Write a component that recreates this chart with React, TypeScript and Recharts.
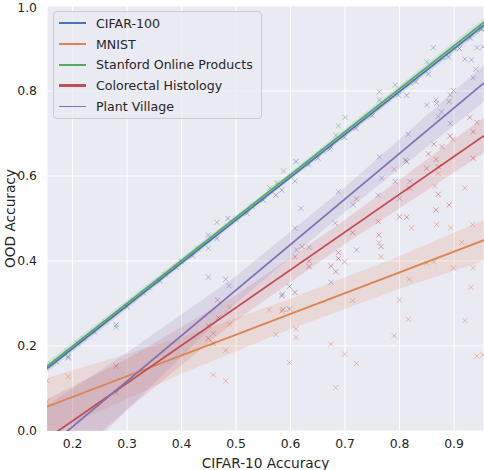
import {
    ComposedChart,
    Line,
    Area,
    Scatter,
    XAxis,
    YAxis,
    CartesianGrid,
    Legend
} from "recharts";

// series names and colours (seaborn deep palette)
const seriesNames = ["CIFAR-100", "MNIST", "Stanford Online Products", "Colorectal Histology", "Plant Village"];
const seriesColors = ["#4C72B0", "#DD8452", "#55A868", "#C44E52", "#8172B3"];
const legendWidths = [2.2, 1.2, 2.2, 2.2, 1.2];

const xTicks = [0.2, 0.3, 0.4, 0.5, 0.6, 0.7, 0.8, 0.9];
const yTicks = [0, 0.2, 0.4, 0.6, 0.8, 1.0];

// scatter points [cifar10 acc, ood acc]
const cifar100Points = [
    [0.17, 0.163], [0.192, 0.175], [0.21, 0.205], [0.24, 0.233], [0.28, 0.25], [0.3, 0.292], [0.33, 0.325],
    [0.36, 0.353], [0.39, 0.385], [0.42, 0.412], [0.449, 0.461], [0.465, 0.453], [0.485, 0.5], [0.52, 0.512],
    [0.55, 0.543], [0.573, 0.555], [0.584, 0.567], [0.61, 0.634], [0.633, 0.628], [0.65, 0.642], [0.672, 0.663],
    [0.674, 0.669], [0.699, 0.691], [0.72, 0.712], [0.75, 0.742], [0.763, 0.779], [0.798, 0.79], [0.813, 0.79],
    [0.83, 0.822], [0.853, 0.84], [0.89, 0.88], [0.91, 0.9], [0.93, 0.925], [0.95, 0.945]
];
const mnistPoints = [
    [0.153, 0.118], [0.153, 0.069], [0.192, 0.128], [0.458, 0.132], [0.481, 0.19], [0.481, 0.118], [0.488, 0.29],
    [0.488, 0.251], [0.561, 0.285], [0.573, 0.227], [0.584, 0.282], [0.598, 0.161], [0.61, 0.24], [0.61, 0.22],
    [0.674, 0.204], [0.683, 0.102], [0.699, 0.181], [0.714, 0.307], [0.721, 0.159], [0.762, 0.443], [0.766, 0.41],
    [0.79, 0.224], [0.79, 0.616], [0.8, 0.308], [0.816, 0.263], [0.818, 0.357], [0.822, 0.478], [0.85, 0.395],
    [0.863, 0.398], [0.865, 0.576], [0.868, 0.486], [0.871, 0.606], [0.894, 0.478], [0.899, 0.384], [0.914, 0.444],
    [0.92, 0.26], [0.92, 0.572], [0.931, 0.338], [0.934, 0.486], [0.935, 0.384], [0.942, 0.176], [0.953, 0.179]
];
const sopPoints = [
    [0.16, 0.158], [0.19, 0.188], [0.22, 0.218], [0.26, 0.257], [0.28, 0.244], [0.31, 0.308], [0.34, 0.337],
    [0.37, 0.368], [0.4, 0.398], [0.43, 0.428], [0.449, 0.43], [0.465, 0.491], [0.5, 0.498], [0.53, 0.528],
    [0.562, 0.572], [0.575, 0.584], [0.587, 0.612], [0.608, 0.588], [0.63, 0.628], [0.66, 0.658], [0.683, 0.696],
    [0.688, 0.718], [0.7, 0.738], [0.74, 0.738], [0.763, 0.798], [0.792, 0.814], [0.82, 0.818], [0.85, 0.869],
    [0.862, 0.902], [0.88, 0.878], [0.9, 0.9], [0.94, 0.94], [0.95, 0.948]
];
const colorectalPoints = [
    [0.28, 0.153], [0.28, 0.09], [0.449, 0.248], [0.466, 0.308], [0.468, 0.267], [0.449, 0.218], [0.458, 0.206],
    [0.584, 0.318], [0.608, 0.326], [0.598, 0.287], [0.586, 0.286], [0.608, 0.41], [0.621, 0.434], [0.634, 0.387],
    [0.634, 0.4], [0.674, 0.388], [0.683, 0.375], [0.688, 0.42], [0.688, 0.406], [0.714, 0.467], [0.721, 0.546],
    [0.762, 0.461], [0.766, 0.434], [0.761, 0.493], [0.8, 0.504], [0.813, 0.503], [0.813, 0.634], [0.819, 0.571],
    [0.85, 0.618], [0.853, 0.652], [0.863, 0.675], [0.867, 0.639], [0.867, 0.52], [0.871, 0.622], [0.871, 0.557],
    [0.878, 0.669], [0.891, 0.775], [0.891, 0.532], [0.893, 0.694], [0.898, 0.686], [0.929, 0.738], [0.935, 0.704],
    [0.935, 0.642], [0.942, 0.726]
];
const plantVillagePoints = [
    [0.192, 0.172], [0.449, 0.362], [0.458, 0.23], [0.481, 0.357], [0.487, 0.342], [0.585, 0.322], [0.598, 0.34],
    [0.608, 0.477], [0.611, 0.426], [0.619, 0.524], [0.634, 0.432], [0.674, 0.35], [0.682, 0.489], [0.688, 0.563],
    [0.699, 0.398], [0.715, 0.532], [0.721, 0.426], [0.761, 0.555], [0.763, 0.645], [0.767, 0.595], [0.792, 0.587],
    [0.8, 0.547], [0.811, 0.638], [0.816, 0.698], [0.819, 0.587], [0.85, 0.767], [0.867, 0.779], [0.868, 0.771],
    [0.871, 0.74], [0.877, 0.751], [0.893, 0.724], [0.893, 0.791], [0.899, 0.801], [0.92, 0.875], [0.932, 0.873],
    [0.935, 0.831], [0.94, 0.851], [0.942, 0.902], [0.953, 0.904]
];

// regression fit endpoints [x, y]
const cifar100Fit = [[0.153, 0.147], [0.955, 0.955]];
const mnistFit = [[0.153, 0.057], [0.955, 0.449]];
const sopFit = [[0.153, 0.152], [0.955, 0.962]];
const colorectalFit = [[0.153, -0.018], [0.955, 0.695]];
const plantVillageFit = [[0.153, -0.04], [0.955, 0.819]];

// confidence bands [x, low, high]
const cifar100Band = [[0.153, 0.138, 0.156], [0.55, 0.542, 0.552], [0.955, 0.946, 0.964]];
const mnistBand = [[0.153, -0.01, 0.125], [0.4, 0.135, 0.22], [0.6, 0.24, 0.312], [0.8, 0.335, 0.412], [0.955, 0.4, 0.497]];
const sopBand = [[0.153, 0.143, 0.162], [0.55, 0.548, 0.558], [0.955, 0.952, 0.972]];
const colorectalBand = [[0.153, -0.11, 0.075], [0.3, 0.05, 0.17], [0.5, 0.26, 0.32], [0.7, 0.44, 0.497], [0.955, 0.655, 0.738]];
const plantVillageBand = [[0.153, -0.14, 0.06], [0.3, 0.05, 0.185], [0.5, 0.3, 0.365], [0.7, 0.516, 0.574], [0.955, 0.775, 0.862]];

const points = [cifar100Points, mnistPoints, sopPoints, colorectalPoints, plantVillagePoints];
const fits = [cifar100Fit, mnistFit, sopFit, colorectalFit, plantVillageFit];
const bands = [cifar100Band, mnistBand, sopBand, colorectalBand, plantVillageBand];

const toXY = (arr: number[][]) => arr.map(([x, y]) => ({ x, y }));
const toBand = (arr: number[][]) => arr.map(([x, lo, hi]) => ({ x, range: [lo, hi] }));

const font = "'DejaVu Sans', sans-serif";
const textColor = "#262626";

const XMark = (props: any) => {
    const { cx, cy, fill } = props;
    if (cx == null || cy == null) return null;
    const s = 2.6;
    return (
        <path
            d={`M${cx - s},${cy - s}L${cx + s},${cy + s}M${cx - s},${cy + s}L${cx + s},${cy - s}`}
            stroke={fill}
            strokeWidth={0.9}
            strokeOpacity={0.55}
            fill="none"
        />
    );
};

const LegendBox = () => (
    <div style={{
        width: 207,
        height: 105,
        background: "rgba(234,234,242,0.8)",
        border: "1px solid #cccccc",
        borderRadius: 4,
        fontFamily: font,
        fontSize: 12.6,
        color: textColor,
        boxSizing: "content-box",
        paddingTop: 1
    }}>
        {seriesNames.map((name, i) => (
            <div key={name} style={{ display: "flex", alignItems: "center", height: 20.7 }}>
                <div style={{ width: 27, height: legendWidths[i], background: seriesColors[i], marginLeft: 5, marginRight: 10 }} />
                <span style={{ whiteSpace: "nowrap" }}>{name}</span>
            </div>
        ))}
    </div>
);

const App = () => {
    return (
        <div style={{ position: "absolute", left: 0, top: 0 }}>
            <ComposedChart width={484} height={470} margin={{ top: 6, right: 0, bottom: 0, left: 0 }}>
                <CartesianGrid fill="#EAEAF2" stroke="#ffffff" strokeWidth={1.1} />
                <XAxis
                    dataKey="x"
                    type="number"
                    domain={[0.153, 0.955]}
                    ticks={xTicks}
                    allowDataOverflow
                    tickLine={false}
                    axisLine={false}
                    height={39}
                    tickFormatter={(v) => v.toFixed(1)}
                    tick={{ fontSize: 12.4, fill: textColor, fontFamily: font }}
                    label={{ value: "CIFAR-10 Accuracy", position: "insideBottom", offset: 2, fontSize: 13.7, fill: textColor, fontFamily: font }}
                />
                <YAxis
                    type="number"
                    domain={[0, 1]}
                    ticks={yTicks}
                    allowDataOverflow
                    tickLine={false}
                    axisLine={false}
                    width={47}
                    tickMargin={4}
                    tickFormatter={(v) => v.toFixed(1)}
                    tick={{ fontSize: 12.4, fill: textColor, fontFamily: font }}
                    label={{ value: "OOD Accuracy", angle: -90, position: "insideLeft", offset: 10, fontSize: 13.7, fill: textColor, fontFamily: font, style: { textAnchor: "middle" } }}
                />
                <Legend
                    layout="vertical"
                    align="center"
                    verticalAlign="middle"
                    content={() => <LegendBox />}
                    wrapperStyle={{ left: 53, top: 11, width: 209, height: 107 }}
                />
                {bands.map((b, i) => (
                    <Area
                        key={"band" + i}
                        data={toBand(b)}
                        dataKey="range"
                        type="linear"
                        stroke="none"
                        fill={seriesColors[i]}
                        fillOpacity={0.16}
                        isAnimationActive={false}
                        legendType="none"
                    />
                ))}
                {points.map((p, i) => (
                    <Scatter
                        key={"pts" + i}
                        data={toXY(p)}
                        dataKey="y"
                        fill={seriesColors[i]}
                        shape={<XMark />}
                        isAnimationActive={false}
                        legendType="none"
                    />
                ))}
                {fits.map((f, i) => (
                    <Line
                        key={"fit" + i}
                        data={toXY(f)}
                        dataKey="y"
                        type="linear"
                        stroke={seriesColors[i]}
                        strokeWidth={1.8}
                        dot={false}
                        activeDot={false}
                        isAnimationActive={false}
                        name={seriesNames[i]}
                    />
                ))}
            </ComposedChart>
        </div>
    );
};

export default App;
